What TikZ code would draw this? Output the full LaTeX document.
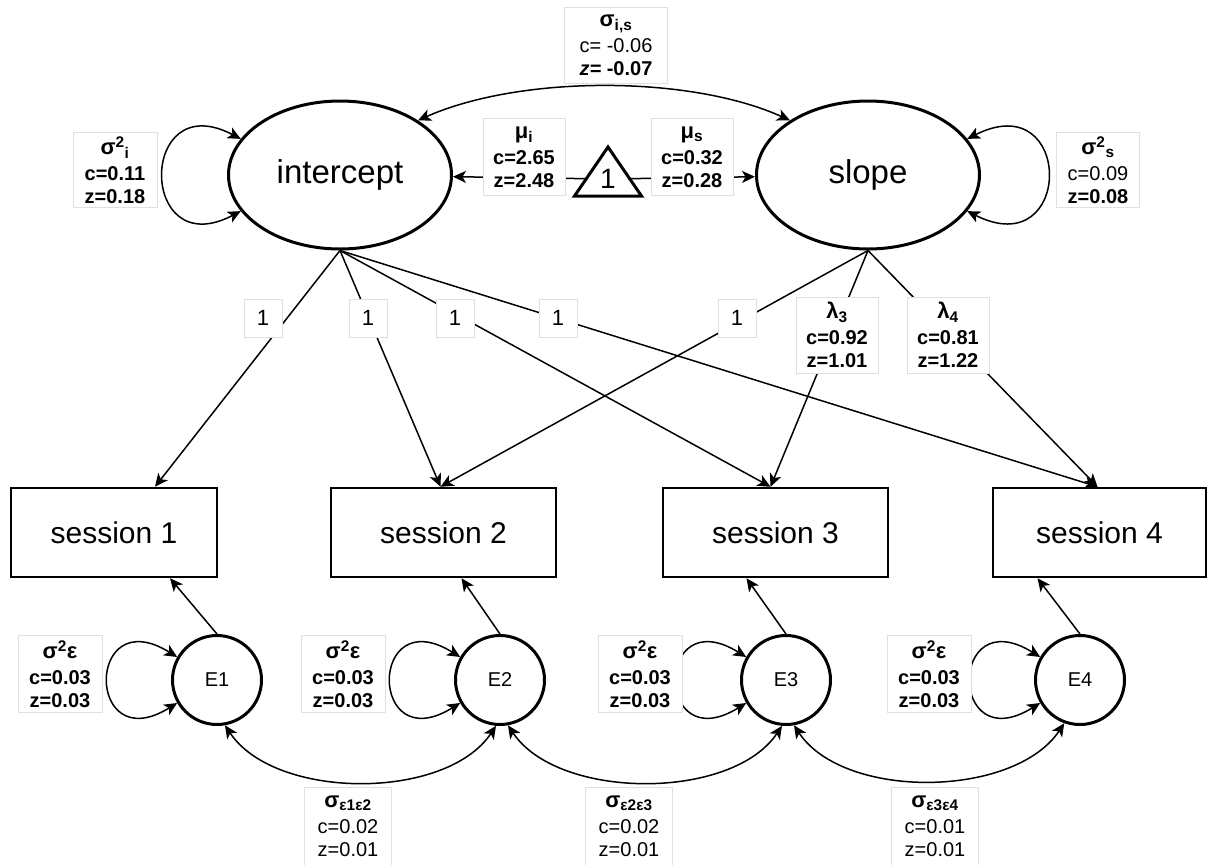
\documentclass[tikz,border=0pt]{standalone}
\usepackage{fontspec}
\setmainfont{Liberation Sans}
\usetikzlibrary{arrows.meta,shapes.geometric}
\begin{document}
\begin{tikzpicture}[x=1pt,y=-1pt,
  >={Stealth[length=13pt,width=12pt,inset=3.5pt]},
  lat/.style={ellipse, draw, line width=3pt, fill=white, minimum width=223pt, minimum height=148pt, font=\fontsize{33}{40}\selectfont},
  obs/.style={rectangle, draw, line width=2.5pt, fill=white, minimum height=89pt, font=\fontsize{30}{36}\selectfont},
  err/.style={circle, draw, line width=3pt, fill=white, minimum size=89pt, inner sep=0pt, font=\fontsize{20}{24}\selectfont},
  conn/.style={line width=1.5pt},
  lbl/.style={rectangle, draw=black!12, line width=0.8pt, fill=white, inner sep=0pt, align=center, font=\fontsize{20}{23}\selectfont},
  one/.style={lbl, minimum width=38pt, minimum height=38pt, font=\fontsize{22}{24}\selectfont},
]
\useasboundingbox (0,0) rectangle (1216,865);

% latent variables
\node[lat] (int) at (340,175) {intercept};
\node[lat] (slp) at (868,175) {slope};
% constant
\node[inner sep=0pt, minimum width=43pt, minimum height=14pt, font=\fontsize{28}{30}\selectfont] (tri) at (608,179) {1};
\draw[line width=3pt, line join=miter] (tri.center) ++(-33.5,17) -- ++(33.5,-49) -- ++(33.5,49) -- cycle;

% observed
\node[obs, minimum width=206pt] (s1) at (114,532.5) {session 1};
\node[obs, minimum width=225pt] (s2) at (443.5,532.5) {session 2};
\node[obs, minimum width=225pt] (s3) at (775.5,532.5) {session 3};
\node[obs, minimum width=213pt] (s4) at (1099.5,532.5) {session 4};

% errors
\node[err] (e1) at (217,680) {E1};
\node[err] (e2) at (500,680) {E2};
\node[err] (e3) at (786,680) {E3};
\node[err] (e4) at (1080,680) {E4};

% covariance intercept-slope
\draw[conn,<->] (int.35) .. controls (520,75) and (690,75) .. (slp.145);
% variances of latents
\draw[conn,<->] (int.160) .. controls +(-103,-54) and +(-103,54) .. (int.200);
\draw[conn,<->] (slp.20) .. controls +(107,-54) and +(107,54) .. (slp.340);
% means
\draw[conn,->] (tri) -- (int);
\draw[conn,->] (tri) -- (slp);

% loadings
\draw[conn,->] (int.south) -- ([xshift=41pt]s1.north);
\draw[conn,->] (int.south) -- ([xshift=-3pt]s2.north);
\draw[conn,->] (int.south) -- ([xshift=-5pt]s3.north);
\draw[conn,->] (int.south) -- ([xshift=-2pt]s4.north);
\draw[conn,->] (slp.south) -- ([xshift=-3pt]s2.north);
\draw[conn,->] (slp.south) -- ([xshift=-5pt]s3.north);
\draw[conn,->] (slp.south) -- ([xshift=-2pt]s4.north);

% errors to observed
\draw[conn,->] (e1.north) -- ([xshift=56pt]s1.south);
\draw[conn,->] (e2.north) -- ([xshift=18pt]s2.south);
\draw[conn,->] (e3.north) -- ([xshift=-29pt]s3.south);
\draw[conn,->] (e4.north) -- ([xshift=-62pt]s4.south);

% error variances
\draw[conn,<->] (e1.150) .. controls +(-92,-57) and +(-92,57) .. (e1.210);
\draw[conn,<->] (e2.150) .. controls +(-92,-57) and +(-92,57) .. (e2.210);
\draw[conn,<->] (e3.150) .. controls +(-92,-57) and +(-92,57) .. (e3.210);
\draw[conn,<->] (e4.150) .. controls +(-92,-57) and +(-92,57) .. (e4.210);

% error covariances
\draw[conn,<->] (e1.280) .. controls +(50,75) and +(-50,75) .. (e2.265);
\draw[conn,<->] (e2.280) .. controls +(50,75) and +(-50,75) .. (e3.265);
\draw[conn,<->] (e3.280) .. controls +(50,75) and +(-50,75) .. (e4.250);

% labels
\node[lbl, minimum width=103pt, minimum height=76pt] (lis) at (616,45)
  {{\bfseries\fontsize{22}{24}\selectfont σ\textsubscript{i,s}}\\[3pt] c= -0.06\\ \textbf{\textit{z=} -0.07}};
\node[lbl, minimum width=84pt, minimum height=75pt] (lvi) at (115,170)
  {{\bfseries\fontsize{22}{24}\selectfont σ\textsuperscript{2}\textsubscript{i}}\\[3pt] \textbf{c=0.11}\\ \textbf{z=0.18}};
\node[lbl, minimum width=83pt, minimum height=75pt] (lvs) at (1098,170)
  {{\bfseries\fontsize{22}{24}\selectfont σ\textsuperscript{2}\textsubscript{s}}\\[3pt] c=0.09\\ \textbf{z=0.08}};
\node[lbl, minimum width=82pt, minimum height=77pt] (lmi) at (524,157)
  {{\bfseries\fontsize{22}{24}\selectfont μ\textsubscript{i}}\\[3pt] \textbf{c=2.65}\\ \textbf{z=2.48}};
\node[lbl, minimum width=82pt, minimum height=77pt] (lms) at (692,157)
  {{\bfseries\fontsize{22}{24}\selectfont μ\textsubscript{s}}\\[3pt] \textbf{c=0.32}\\ \textbf{z=0.28}};

\node[one] (o1) at (263,318) {1};
\node[one] (o2) at (368,318) {1};
\node[one] (o3) at (455,318) {1};
\node[one] (o4) at (558,318) {1};
\node[one] (o5) at (737,318) {1};
\node[lbl, minimum width=82pt, minimum height=76pt] (l3) at (837,335)
  {{\bfseries\fontsize{22}{24}\selectfont λ\textsubscript{3}}\\[3pt] \textbf{c=0.92}\\ \textbf{z=1.01}};
\node[lbl, minimum width=82pt, minimum height=76pt] (l4) at (948,335)
  {{\bfseries\fontsize{22}{24}\selectfont λ\textsubscript{4}}\\[3pt] \textbf{c=0.81}\\ \textbf{z=1.22}};

\node[lbl, minimum width=84pt, minimum height=77pt] (ve1) at (60,674)
  {{\bfseries\fontsize{22}{24}\selectfont σ\textsuperscript{2}ε}\\[3pt] \textbf{c=0.03}\\ \textbf{z=0.03}};
\node[lbl, minimum width=84pt, minimum height=77pt] (ve2) at (343,674)
  {{\bfseries\fontsize{22}{24}\selectfont σ\textsuperscript{2}ε}\\[3pt] \textbf{c=0.03}\\ \textbf{z=0.03}};
\node[lbl, minimum width=84pt, minimum height=77pt] (ve3) at (640,674)
  {{\bfseries\fontsize{22}{24}\selectfont σ\textsuperscript{2}ε}\\[3pt] \textbf{c=0.03}\\ \textbf{z=0.03}};
\node[lbl, minimum width=84pt, minimum height=77pt] (ve4) at (929,674)
  {{\bfseries\fontsize{22}{24}\selectfont σ\textsuperscript{2}ε}\\[3pt] \textbf{c=0.03}\\ \textbf{z=0.03}};

\node[lbl, minimum width=87pt, minimum height=78pt] (c12) at (348,826)
  {{\bfseries\fontsize{22}{24}\selectfont σ\textsubscript{ε1ε2}}\\[3pt] c=0.02\\ z=0.01};
\node[lbl, minimum width=87pt, minimum height=78pt] (c23) at (629,826)
  {{\bfseries\fontsize{22}{24}\selectfont σ\textsubscript{ε2ε3}}\\[3pt] c=0.02\\ z=0.01};
\node[lbl, minimum width=87pt, minimum height=78pt] (c34) at (935,826)
  {{\bfseries\fontsize{22}{24}\selectfont σ\textsubscript{ε3ε4}}\\[3pt] c=0.01\\ z=0.01};
\end{tikzpicture}
\end{document}
